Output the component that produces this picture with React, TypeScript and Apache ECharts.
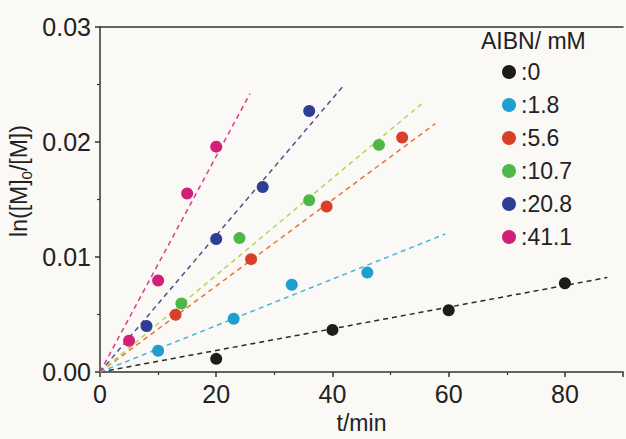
import React, { useEffect, useRef } from "react";
import * as echarts from "echarts";

const seriesNames = ["0", "1.8", "5.6", "10.7", "20.8", "41.1"];
const pointColors = ["#1c1c1c", "#1e9fd0", "#d8402a", "#4db848", "#2d3e94", "#d31f78"];
const lineColors = ["#2a2a2a", "#4ab3d8", "#e8743a", "#b3d45a", "#4a5592", "#dc3a8c"];

const xValues = [
  [20, 40, 60, 80],
  [10, 23, 33, 46],
  [13, 26, 39, 52],
  [14, 24, 36, 48],
  [8, 20, 28, 36],
  [5, 10, 15, 20],
];
const yValues = [
  [0.00115, 0.00367, 0.00538, 0.00773],
  [0.00186, 0.00464, 0.00759, 0.00865],
  [0.00498, 0.00982, 0.0144, 0.0204],
  [0.00596, 0.01165, 0.01494, 0.01975],
  [0.00401, 0.01157, 0.01609, 0.0227],
  [0.00272, 0.00796, 0.01552, 0.0196],
];
// fitted lines through origin: end point x and y
const fitEndX = [87.3, 59.4, 57.7, 55.3, 41.9, 25.8];
const fitEndY = [0.00822, 0.012, 0.0216, 0.0233, 0.0249, 0.0242];

const xTicks = [0, 20, 40, 60, 80];

const FONT = "'Liberation Sans', Arial, sans-serif";
const TXT = "#222";

export default function App() {
  const ref = useRef<HTMLDivElement>(null);
  useEffect(() => {
    document.body.style.margin = "0";
    const chart = echarts.init(ref.current!, undefined, { renderer: "svg" });
    const series: any[] = [];
    seriesNames.forEach((n, i) => {
      series.push({
        name: "fit" + i,
        type: "line",
        data: [
          [0, 0],
          [fitEndX[i], fitEndY[i]],
        ],
        showSymbol: false,
        symbol: "none",
        lineStyle: { color: lineColors[i], width: 1.5, type: [5, 4] },
        z: 2,
      });
    });
    seriesNames.forEach((n, i) => {
      series.push({
        name: n,
        type: "scatter",
        data: xValues[i].map((x, j) => [x, yValues[i][j]]),
        symbolSize: 12,
        itemStyle: { color: pointColors[i], opacity: 1 },
        z: 3,
      });
    });
    chart.setOption({
      animation: false,
      backgroundColor: "#faf9f5",
      textStyle: { fontFamily: FONT },
      title: {
        text: "AIBN/ mM",
        left: 481,
        top: 29,
        padding: 0,
        textStyle: { fontFamily: FONT, fontSize: 23, fontWeight: "normal", color: TXT },
      },
      legend: {
        data: seriesNames,
        orient: "vertical",
        left: 502,
        top: 59,
        itemWidth: 14,
        itemHeight: 14,
        itemGap: 7,
        icon: "circle",
        padding: 0,
        formatter: (name: string) => ":" + name,
        textStyle: { fontFamily: FONT, fontSize: 23, color: TXT, lineHeight: 26 },
      },
      grid: { left: 100, right: 0, top: 27, bottom: 62, containLabel: false },
      xAxis: [
        {
          type: "value",
          min: 0,
          max: 90,
          interval: 20,
          name: "t/min",
          nameLocation: "middle",
          nameGap: 37,
          nameTextStyle: { fontFamily: FONT, fontSize: 23, color: TXT },
          axisLine: { show: true, lineStyle: { color: "#333", width: 1.5 } },
          axisTick: { show: true, inside: false, length: 5, lineStyle: { color: "#333", width: 1.5 } },
          minorTick: { show: true, splitNumber: 2, length: 3, lineStyle: { color: "#333", width: 1.2 } },
          splitLine: { show: false },
          axisLabel: {
            fontFamily: FONT,
            fontSize: 25,
            color: TXT,
            margin: 9,
            formatter: (v: number) => (xTicks.includes(v) ? String(v) : ""),
          },
        },
        {
          type: "value",
          position: "top",
          min: 0,
          max: 90,
          axisLine: { show: true, lineStyle: { color: "#333", width: 1.5 } },
          axisTick: { show: false },
          axisLabel: { show: false },
          splitLine: { show: false },
        },
      ],
      yAxis: {
        type: "value",
        min: 0,
        max: 0.03,
        interval: 0.01,
        axisLine: { show: true, lineStyle: { color: "#333", width: 1.5 } },
        axisTick: { show: true, inside: false, length: 5, lineStyle: { color: "#333", width: 1.5 } },
        minorTick: { show: true, splitNumber: 2, length: 3, lineStyle: { color: "#333", width: 1.2 } },
        splitLine: { show: false },
        axisLabel: {
          fontFamily: FONT,
          fontSize: 25,
          color: TXT,
          margin: 9,
          formatter: (v: number) => v.toFixed(2),
        },
      },
      graphic: [
        {
          type: "text",
          x: 19,
          y: 181,
          rotation: Math.PI / 2,
          style: {
            text: "{a|ln([M]}{s|0}{a|/[M])}",
            align: "center",
            verticalAlign: "middle",
            fill: TXT,
            rich: {
              a: { fontFamily: FONT, fontSize: 23, fill: TXT, lineHeight: 30, verticalAlign: "middle" },
              s: { fontFamily: FONT, fontSize: 15, fill: TXT, lineHeight: 15, verticalAlign: "bottom" },
            },
          },
        },
      ],
      series,
    });
    return () => chart.dispose();
  }, []);
  return <div ref={ref} style={{ width: 626, height: 439 }} />;
}
